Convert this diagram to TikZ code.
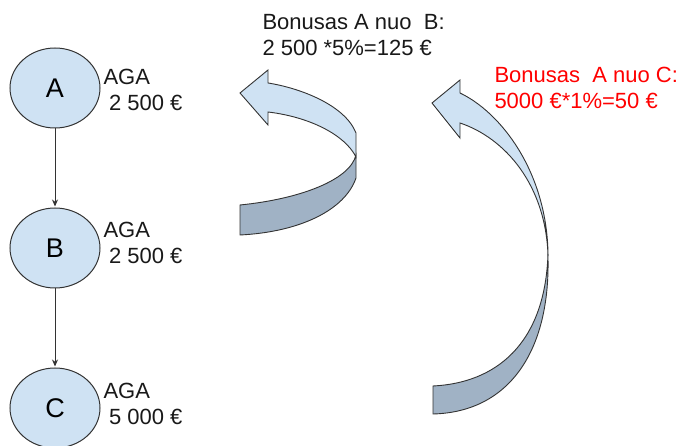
\documentclass[tikz,border=0pt]{standalone}
\usepackage{fontspec}
\setmainfont{Liberation Sans}
\usetikzlibrary{arrows.meta,shapes.geometric,positioning}
\definecolor{nodeblue}{HTML}{CFE2F3}
\definecolor{backblue}{HTML}{A0B2C5}
\definecolor{linegray}{HTML}{333333}

\begin{document}
\begin{tikzpicture}[x=1pt,y=-1pt,->,>={Stealth[length=7pt,width=6pt]},shorten >=1pt,
    node distance=160pt,line width=1pt,
    person node/.style={ellipse,draw=linegray,fill=nodeblue,minimum width=90pt,
      minimum height=80pt,inner sep=0pt,font=\fontsize{27}{30}\selectfont},
    sum/.style={anchor=north west,inner sep=0pt,align=left,text=black!90,
      font=\fontsize{22}{26}\selectfont},
    band/.style={-,draw=linegray,line width=0.9pt}]

\useasboundingbox (0,0) rectangle (681,446);

\node[person node] (A) at (55,88) {A};
\node[person node] (B) [below of=A] {B};
\node[person node] (C) [below of=B] {C};

\node[sum] (aga A) at (103,69) {AGA\\\hspace*{.25em}2 500 €};
\node[sum] (aga B) at (103,222) {AGA\\\hspace*{.25em}2 500 €};
\node[sum] (aga C) at (103,383) {AGA\\\hspace*{.25em}5 000 €};

\node[sum] (bonus B) at (262,14) {Bonusas A nuo~~B:\\2 500 *5\%=125 €};
\node[sum,text=red] (bonus C) at (494,67) {Bonusas~~A nuo C:\\5000 €*1\%=50 €};

\path[draw=linegray]
(A) edge (B)
(B) edge (C)
;

% bent arrow A <- B
\draw[band,fill=backblue] (240,205) .. controls (300,199) and (350,180) .. (356,155)
  -- (356,178) .. controls (345,210) and (300,232) .. (240,235) -- cycle;
\draw[band,fill=nodeblue] (268,83) .. controls (300,88) and (345,105) .. (356,133)
  -- (356,157) .. controls (345,135) and (310,117) .. (268,112)
  -- (268,125) -- (240,93) -- (268,70) -- cycle;

% bent arrow A <- C
\draw[band,fill=backblue] (548,254) .. controls (545,345) and (495,383) .. (433,386)
  -- (433,414) .. controls (510,412) and (550,350) .. (548,258) -- cycle;
\draw[band,fill=nodeblue] (460,93) .. controls (500,112) and (546,170) .. (548,252)
  -- (548,256) .. controls (546,185) and (505,138) .. (460,123)
  -- (460,138) -- (432,103) -- (460,80) -- cycle;

\end{tikzpicture}
\end{document}
